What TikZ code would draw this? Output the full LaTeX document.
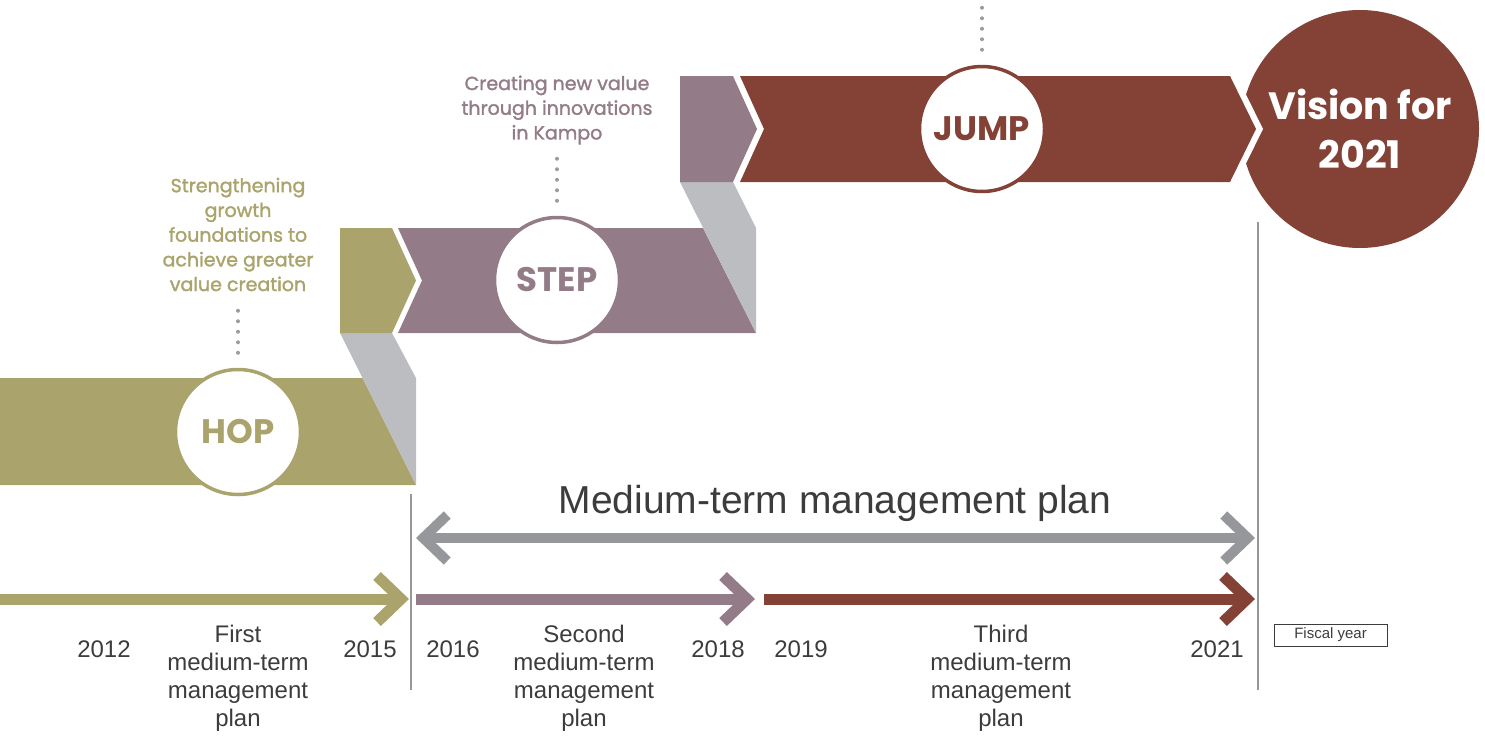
\documentclass[tikz,border=0pt]{standalone}
\usepackage{fontspec}
\setmainfont{Liberation Sans}
\newfontfamily\geofont{Poppins}
\newfontfamily\capfont[FakeBold=1.6]{Poppins}
\usetikzlibrary{arrows.meta}
\definecolor{hopc}{RGB}{170,164,108}
\definecolor{stepc}{RGB}{147,124,136}
\definecolor{jumpc}{RGB}{132,66,55}
\definecolor{foldc}{RGB}{188,189,192}
\definecolor{spanc}{RGB}{150,151,154}
\definecolor{textc}{RGB}{60,60,60}
\definecolor{dotc}{RGB}{155,155,160}
\tikzset{
  stage/.style={circle,fill=white,draw=#1,line width=3.5pt,minimum size=125pt,inner sep=0pt,
    text=#1,font=\geofont\bfseries\fontsize{34}{34}\selectfont},
  caption/.style={align=center,text=#1,font=\capfont\fontsize{19}{24.7}\selectfont},
  dotline/.style={dotc,line width=4pt,line cap=round,dash pattern=on 0pt off 10.5pt},
  bar/.style={line width=11pt,#1,-{Straight Barb[length=24pt,width=46pt,line cap=butt,line join=miter]}},
  year/.style={anchor=base,text=textc,font=\fontsize{24}{24}\selectfont},
  plan/.style={align=center,text=textc,font=\fontsize{24}{28}\selectfont},
  divider/.style={line width=1.5pt,spanc}
}
\begin{document}
\begin{tikzpicture}[x=1pt,y=-1pt]
  \useasboundingbox (0,0) rectangle (1485,742);
  % bands
  \fill[hopc] (0,378) -- (362.5,378) -- (416,485) -- (0,485) -- cycle;
  \fill[foldc] (340,333) -- (392,333) -- (416,378) -- (416,485) -- cycle;
  \fill[hopc] (340,228) -- (392,228) -- (416,280.5) -- (392,333) -- (340,333) -- cycle;
  \fill[stepc] (398,228) -- (703,228) -- (756,333) -- (398,333) -- (422,280.5) -- cycle;
  \fill[foldc] (680,182) -- (733,182) -- (756,228) -- (756,333) -- cycle;
  \fill[stepc] (680,76) -- (733,76) -- (757,129) -- (733,182) -- (680,182) -- cycle;
  \node[circle,fill=jumpc,minimum size=238pt,inner sep=0pt,align=center,text=white,
    font=\geofont\bfseries\fontsize{38}{49}\selectfont] (vision) at (1360,129) {Vision for\\2021};
  \fill[white] (1220,50) -- (1224,50) -- (1263,129) -- (1224,208) -- (1220,208) -- cycle;
  \fill[jumpc] (740,76) -- (1230,76) -- (1256,129) -- (1230,182) -- (740,182) -- (764,129) -- cycle;
  % stages
  \node[stage=hopc] (hop) at (238,432) {HOP};
  \node[stage=stepc] (step) at (557,280) {STEP};
  \node[stage=jumpc] (jump) at (982,129) {JUMP};
  \node[caption=hopc] (hopcap) at (238,234.5) {Strengthening\\growth\\foundations to\\achieve greater\\value creation};
  \node[caption=stepc] (stepcap) at (557,110) {Creating new value\\through innovations\\in Kampo};
  \draw[dotline] ([yshift=15pt]hop.north) -- ++(0,-43);
  \draw[dotline] ([yshift=15pt]step.north) -- ++(0,-43);
  \draw[dotline] ([yshift=15pt]jump.north) -- ++(0,-43);
  % timeline
  \draw[divider] (411,494) -- (411,690);
  \draw[divider] (1258,222) -- (1258,690);
  \node[anchor=base,text=textc,font=\fontsize{39}{39}\selectfont] (span) at (835,513) {Medium-term management plan};
  \coordinate (midL) at (416,538);
  \coordinate (midR) at (1255,538);
  \draw[line width=10pt,spanc,{Straight Barb[length=24pt,width=46pt,line cap=butt,line join=miter]}-{Straight Barb[length=24pt,width=46pt,line cap=butt,line join=miter]}] (midL) -- (midR);
  \coordinate (hopL) at (0,599);
  \coordinate (hopR) at (409,599);
  \coordinate (stepL) at (416,599);
  \coordinate (stepR) at (755,599);
  \coordinate (jumpL) at (764,599);
  \coordinate (jumpR) at (1255,599);
  \draw[bar=hopc] (hopL) -- (hopR);
  \draw[bar=stepc] (stepL) -- (stepR);
  \draw[bar=jumpc] (jumpL) -- (jumpR);
  \node[year] (y2012) at (104,657) {2012};
  \node[year] (y2015) at (370,657) {2015};
  \node[year] (y2016) at (453,657) {2016};
  \node[year] (y2018) at (718,657) {2018};
  \node[year] (y2019) at (801,657) {2019};
  \node[year] (y2021) at (1217,657) {2021};
  \node[plan] (first) at (238,678) {First\\medium-term\\management\\plan};
  \node[plan] (second) at (584,678) {Second\\medium-term\\management\\plan};
  \node[plan] (third) at (1001,678) {Third\\medium-term\\management\\plan};
  \node[draw=textc,line width=0.8pt,text=textc,font=\fontsize{15}{15}\selectfont,
    minimum width=113pt,minimum height=22pt,inner sep=0pt] (fy) at (1330.5,635) {Fiscal year};
\end{tikzpicture}
\end{document}
